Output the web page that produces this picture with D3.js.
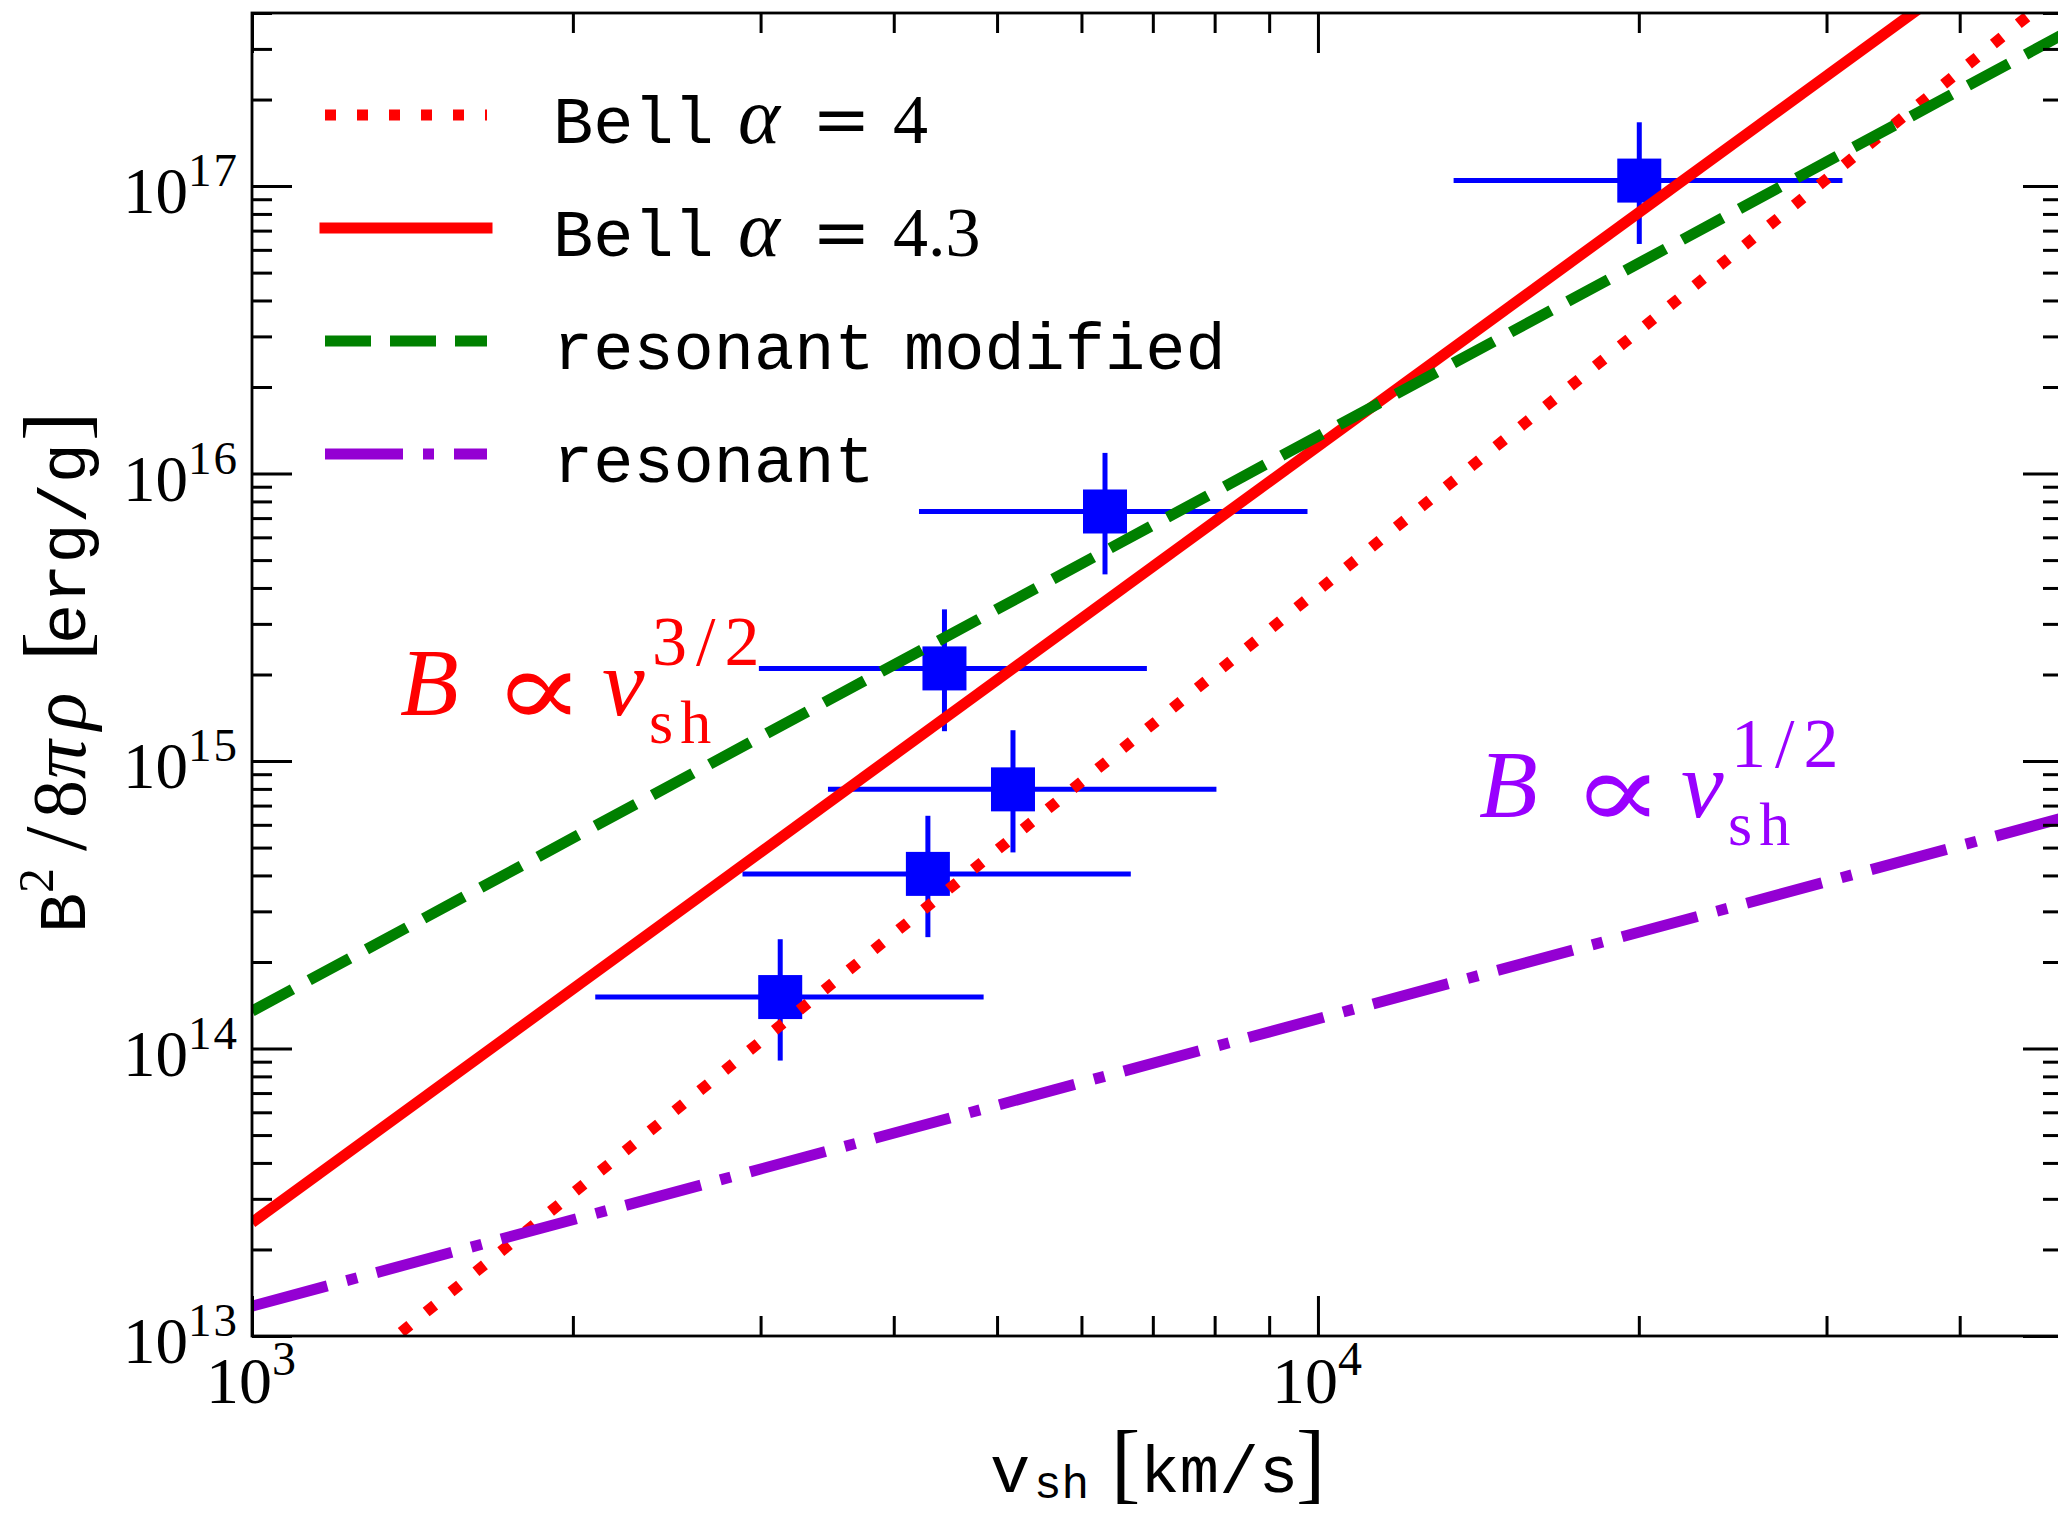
<!DOCTYPE html>
<html>
<head>
<meta charset="utf-8">
<script src="https://cdn.jsdelivr.net/npm/d3@7"></script>
<style>
  html, body { margin: 0; padding: 0; background: #fff; }
  svg { display: block; }
</style>
</head>
<body>
<svg id="chart" width="2058" height="1513"></svg>
<script>
// ---- Data ---------------------------------------------------------------
// Shock velocities (km/s) of the remnants, with the spread of each estimate
const vsh     = [3130, 4306, 5175, 4463, 6313, 20020];
const vshLow  = [2099, 2885, 3470, 2989, 4224, 13405];
const vshHigh = [4857, 6675, 8031, 6911, 9777, 31050];

// Magnetic energy per unit mass B^2/8πρ (erg/g) with its uncertainty
const magE     = [1.51e14, 4.05e14, 7.97e14, 2.10e15, 7.38e15, 1.045e17];
const magELow  = [9.08e13, 2.44e14, 4.81e14, 1.27e15, 4.46e15, 6.29e16];
const magEHigh = [2.40e14, 6.45e14, 1.28e15, 3.37e15, 1.18e16, 1.667e17];

// Model curves are power laws (straight in log-log), given at both ends of the velocity range
const modelV      = [1e3, 5e4];
const bellA4      = [3.92e12, 4.9e17];
const bellA43     = [2.48e13, 9.6e17];
const resonantMod = [1.35e14, 3.37e17];
const resonant    = [1.27e13, 6.34e14];

// Axis ranges and labelled ticks
const xDomain = [1e3, 5e4];
const yDomain = [1e13, 4e17];
const xTickValues = [1e3, 1e4];
const yTickValues = [1e13, 1e14, 1e15, 1e16, 1e17];

// Legend texts: typewriter name + math part
const legendNames = ["Bell", "Bell", "resonant", "resonant"];
const legendSecond = ["", "", "modified", ""];
const legendMath = ["4", "4.3", "", ""];

// ---- Layout -------------------------------------------------------------
const MONO = "'Liberation Mono', 'DejaVu Sans Mono', monospace";
const SERIF = "'Liberation Serif', 'DejaVu Serif', serif";
const MATHSYM = "'DejaVu Serif', 'Liberation Serif', serif";

const L = 252, R = 2063, T = 13, B = 1336;
const svg = d3.select("#chart");

const x = d3.scaleLog().domain(xDomain).range([L, R]);
const y = d3.scaleLog().domain(yDomain).range([B, T]);

svg.append("defs").append("clipPath").attr("id", "plotArea")
  .append("rect").attr("x", L).attr("y", T).attr("width", R - L).attr("height", B - T);

const plot = svg.append("g").attr("clip-path", "url(#plotArea)");

// ---- Measurements: error bars then square markers -----------------------
const BLUE = "#0000ff";
const idx = d3.range(vsh.length);
plot.selectAll("line.xerr").data(idx).join("line")
  .attr("x1", i => x(vshLow[i])).attr("x2", i => x(vshHigh[i]))
  .attr("y1", i => y(magE[i])).attr("y2", i => y(magE[i]))
  .attr("stroke", BLUE).attr("stroke-width", 5);
plot.selectAll("line.yerr").data(idx).join("line")
  .attr("x1", i => x(vsh[i])).attr("x2", i => x(vsh[i]))
  .attr("y1", i => y(magELow[i])).attr("y2", i => y(magEHigh[i]))
  .attr("stroke", BLUE).attr("stroke-width", 5);
const SQ = 44;
plot.selectAll("rect.pt").data(idx).join("rect")
  .attr("x", i => x(vsh[i]) - SQ / 2).attr("y", i => y(magE[i]) - SQ / 2)
  .attr("width", SQ).attr("height", SQ).attr("fill", BLUE);

// ---- Model lines ---------------------------------------------------------
const styles = [
  { vals: bellA4,      color: "#ff0000", dash: "11,21" },
  { vals: bellA43,     color: "#ff0000", dash: null },
  { vals: resonantMod, color: "#008000", dash: "46,19" },
  { vals: resonant,    color: "#9400d3", dash: "78,20,11,20" }
];
const line = d3.line().x(d => x(d[0])).y(d => y(d[1]));
styles.forEach(s => {
  plot.append("path")
    .attr("d", line(d3.zip(modelV, s.vals)))
    .attr("fill", "none")
    .attr("stroke", s.color)
    .attr("stroke-width", 11)
    .attr("stroke-linecap", "butt")
    .attr("stroke-dasharray", s.dash);
});

// ---- Axes: inward ticks on all four sides --------------------------------
const isMajor = v => Math.abs(Math.log10(v) - Math.round(Math.log10(v))) < 1e-9;
const xMinor = x.ticks().filter(v => !isMajor(v));
const yMinor = y.ticks().filter(v => !isMajor(v));

function addAxis(axisFn, scale, values, size, transform) {
  const g = svg.append("g").attr("transform", transform)
    .call(axisFn(scale).tickValues(values).tickSize(-size).tickFormat(""));
  g.select(".domain").remove();
  g.selectAll(".tick line").attr("stroke", "#000").attr("stroke-width", 3);
}
addAxis(d3.axisBottom, x, xTickValues, 40, `translate(0,${B})`);
addAxis(d3.axisBottom, x, xMinor, 20, `translate(0,${B})`);
addAxis(d3.axisTop, x, xTickValues, 40, `translate(0,${T})`);
addAxis(d3.axisTop, x, xMinor, 20, `translate(0,${T})`);
addAxis(d3.axisLeft, y, yTickValues, 40, `translate(${L},0)`);
addAxis(d3.axisLeft, y, yMinor, 20, `translate(${L},0)`);
addAxis(d3.axisRight, y, yTickValues, 40, `translate(${R},0)`);
addAxis(d3.axisRight, y, yMinor, 20, `translate(${R},0)`);

svg.append("rect").attr("x", L).attr("y", T).attr("width", R - L).attr("height", B - T)
  .attr("fill", "none").attr("stroke", "#000").attr("stroke-width", 2.8);

// Tick labels 10^n
const expOf = v => String(Math.round(Math.log10(v)));
yTickValues.forEach(v => {
  const t = svg.append("text").attr("x", L - 13).attr("y", y(v) + 27)
    .attr("text-anchor", "end").attr("font-family", SERIF).attr("font-size", 65);
  t.append("tspan").text("10");
  t.append("tspan").attr("dy", -27).attr("font-size", 47).attr("letter-spacing", 2).text(expOf(v));
});
xTickValues.forEach(v => {
  const t = svg.append("text").attr("x", x(v)).attr("y", 1403)
    .attr("text-anchor", "middle").attr("font-family", SERIF).attr("font-size", 66);
  t.append("tspan").text("10");
  t.append("tspan").attr("dy", -28).attr("font-size", 48).attr("letter-spacing", 2).text(expOf(v));
});

// ---- Text helpers ----------------------------------------------------------
function piece(parent, txt, px, py, family, size, italic, spacing) {
  return parent.append("text").attr("x", px).attr("y", py)
    .attr("font-family", family).attr("font-size", size)
    .attr("font-style", italic ? "italic" : "normal")
    .attr("letter-spacing", spacing || 0).text(txt);
}
// Places a glyph so that its inked outline fills the given box
const measureCtx = document.createElement("canvas").getContext("2d");
function fitGlyph(parent, txt, family, x0, x1, y0, y1) {
  measureCtx.font = `100px ${family}`;
  const m = measureCtx.measureText(txt);
  const w = m.actualBoundingBoxLeft + m.actualBoundingBoxRight;
  const h = m.actualBoundingBoxAscent + m.actualBoundingBoxDescent;
  const sx = (x1 - x0) / w, sy = (y1 - y0) / h;
  const X = x0 + m.actualBoundingBoxLeft * sx;
  const Y = y0 + m.actualBoundingBoxAscent * sy;
  parent.append("text")
    .attr("transform", `translate(${X},${Y}) scale(${sx},${sy})`)
    .attr("font-family", family).attr("font-size", 100).text(txt);
}

// ---- Axis titles -----------------------------------------------------------
// x title: v_sh [km/s]
const xt = svg.append("g");
piece(xt, "v", 990, 1492, MONO, 67);
piece(xt, "sh", 1034, 1498, MONO, 46);
piece(xt, "[", 1111, 1492, SERIF, 88);
piece(xt, "km/s", 1140, 1492, MONO, 66);
piece(xt, "]", 1296, 1492, SERIF, 88);

// y title: B^2/8πρ [erg/g], read bottom to top
const yt = svg.append("g").attr("transform", "translate(85,929) rotate(-90)");
piece(yt, "B", -4, 0, MONO, 67);
piece(yt, "2", 36, -32, SERIF, 50);
piece(yt, "/", 78, 0, SERIF, 88);
piece(yt, "8", 111, 0, SERIF, 76);
piece(yt, "π", 150, 0, SERIF, 78, true);
piece(yt, "ρ", 199, 0, SERIF, 78, true);
piece(yt, "[", 268, 0, SERIF, 88);
piece(yt, "erg/g", 285, 0, MONO, 67);
piece(yt, "]", 488, 0, SERIF, 88);

// ---- Legend --------------------------------------------------------------
const lg = svg.append("g");
styles.forEach((s, i) => {
  const ly = 115 + i * 113;
  lg.append("line").attr("x1", 325).attr("x2", 487).attr("y1", ly).attr("y2", ly)
    .attr("stroke", s.color).attr("stroke-width", 11)
    .attr("stroke-linecap", s.dash ? "butt" : "square")
    .attr("stroke-dasharray", s.dash);
  const by = ly + 28;
  piece(lg, legendNames[i], 553, by, MONO, 67);
  if (legendSecond[i]) piece(lg, legendSecond[i], 904, by, MONO, 67);
  if (legendMath[i]) {
    piece(lg, "α", 738, by, SERIF, 80, true);
    piece(lg, "=", 812, by, MATHSYM, 70);
    piece(lg, legendMath[i], 893, by, SERIF, 70);
  }
});

// ---- Scaling annotations --------------------------------------------------
function scaling(px, py, color, exponent) {
  const g = svg.append("g").attr("fill", color);
  piece(g, "B", px, py, SERIF, 96, true);
  fitGlyph(g, "∝", MATHSYM, px + 106, px + 170, py - 43, py);
  piece(g, "v", px + 202, py, SERIF, 96, true);
  piece(g, exponent, px + 252, py - 50, SERIF, 70, false, 9);
  piece(g, "sh", px + 249, py + 28, SERIF, 62, false, 7);
}
scaling(400, 715, "#ff0000", "3/2");
scaling(1479, 817, "#9900ff", "1/2");
</script>
</body>
</html>
